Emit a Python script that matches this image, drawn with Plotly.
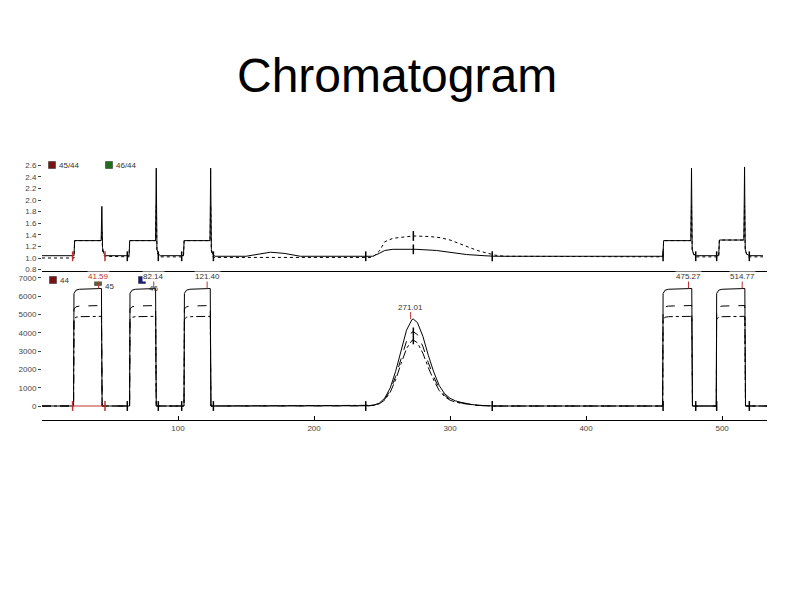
import plotly.graph_objects as go

# ---------------- data ----------------
# reference-gas pulses (bottom panel), seconds
pulse_start = [23.5, 64.7, 104.7, 456.6, 496.0]
pulse_end = [44.0, 83.8, 124.0, 478.0, 517.0]
# intensity profile along each pulse: before rise, at rise, +1.5 s, +4 s, end of plateau, after fall (mV)
profile_44 = [0, 6150, 6330, 6380, 6420, 0]
profile_45 = [0, 5300, 5420, 5460, 5490, 0]
profile_46 = [0, 4750, 4850, 4880, 4900, 0]

# sample peak (bottom panel)
peak_t = [236, 240, 244, 248, 252, 256, 260, 264, 268, 272, 273, 276, 280, 284, 288,
          292, 296, 300, 304, 308, 312, 316, 320, 324, 328, 332]
peak_44 = [0, 13, 49, 158, 431, 988, 1897, 3060, 4145, 4725, 4750, 4560, 3810, 2770, 1860,
           1120, 670, 420, 280, 200, 130, 80, 45, 20, 5, 0]
peak_45 = [0, 11, 42, 135, 368, 845, 1622, 2616, 3544, 4040, 4060, 3900, 3258, 2368, 1590,
           958, 573, 359, 239, 171, 111, 68, 38, 17, 4, 0]
peak_46 = [0, 10, 37, 120, 327, 749, 1438, 2320, 3142, 3582, 3600, 3456, 2888, 2100, 1410,
           849, 508, 318, 212, 152, 99, 61, 34, 15, 4, 0]

# ratio traces (top panel)
r45_t = [0, 23.5, 24, 43.5, 44, 44.5, 45.5, 47,
         64, 64.5, 83.5, 84, 84.5, 85.5, 87,
         104, 104.5, 123.5, 124, 124.5, 125.5, 127,
         150, 160, 168, 178, 190, 200,
         243, 248, 252, 258, 275, 290, 300, 312, 325, 333,
         456.5, 457, 477, 477.5, 478, 479, 481,
         497.5, 498, 516, 516.5, 517, 518, 520, 530]
r45_v = [1.04, 1.04, 1.30, 1.30, 1.89, 1.18, 1.08, 1.04,
         1.04, 1.30, 1.30, 2.55, 1.15, 1.07, 1.04,
         1.04, 1.30, 1.30, 2.55, 1.15, 1.07, 1.03,
         1.03, 1.07, 1.10, 1.08, 1.03, 1.03,
         1.03, 1.08, 1.13, 1.15, 1.15, 1.13, 1.10, 1.06, 1.04, 1.03,
         1.03, 1.30, 1.30, 2.55, 1.15, 1.07, 1.04,
         1.04, 1.31, 1.31, 2.57, 1.15, 1.07, 1.04, 1.04]
r46_t = [0, 23.5, 24, 43.5, 44, 44.5, 46,
         64, 64.5, 83.5, 84, 84.5, 86,
         104, 104.5, 123.5, 124, 124.5, 126,
         243, 248, 252, 258, 265, 273, 285, 293, 300, 307, 312, 320, 328, 333, 340,
         456.5, 457, 477, 477.5, 478, 480,
         497.5, 498, 516, 516.5, 517, 519, 530]
r46_v = [1.00, 1.00, 1.30, 1.30, 1.45, 1.12, 1.03,
         1.02, 1.30, 1.30, 1.90, 1.12, 1.02,
         1.02, 1.30, 1.30, 1.90, 1.12, 1.01,
         1.01, 1.12, 1.28, 1.34, 1.36, 1.38, 1.37, 1.35, 1.31, 1.25, 1.20, 1.13, 1.08, 1.05, 1.03,
         1.02, 1.30, 1.30, 1.90, 1.12, 1.02,
         1.02, 1.31, 1.31, 1.90, 1.12, 1.02, 1.02]

# detected peak boundaries
bound_start = [22.5, 62.7, 102.7, 238.0, 456.6, 496.0]
bound_end = [46.3, 85.5, 126.0, 331.0, 480.6, 520.0]
# peak apex labels
apex_label = ["41.59", "82.14", "121.40", "271.01", "475.27", "514.77"]
apex_time = [41.59, 82.14, 121.40, 271.01, 475.27, 514.77]
apex_height = [6420, 6420, 6420, 4750, 6420, 6420]

x_ticks = [100, 200, 300, 400, 500]
x_tick_text = ["100", "200", "300", "400", "500"]


def pulse_train(starts, ends, profile):
    ts, vs = [], []
    for s, e in zip(starts, ends):
        ts += [s - 0.3, s, s + 1.5, s + 4, e - 0.3, e + 0.2]
        vs += profile
    return ts, vs


def bottom_series(profile, peak_vals):
    t1, v1 = pulse_train(pulse_start[:3], pulse_end[:3], profile)
    t2, v2 = pulse_train(pulse_start[3:], pulse_end[3:], profile)
    t = [0] + t1 + peak_t + t2 + [533]
    v = [0] + v1 + peak_vals + v2 + [0]
    return t, v


fig = go.Figure()
small_font = dict(family="Liberation Sans, Arial", size=8, color="#444")

# ---- bottom panel ----
for prof, pk, dash, name in [(profile_44, peak_44, "solid", "44"),
                             (profile_45, peak_45, "dash", "45"),
                             (profile_46, peak_46, "dashdot", "46")]:
    t, v = bottom_series(prof, pk)
    fig.add_trace(go.Scatter(x=t, y=v, mode="lines", name=name, xaxis="x", yaxis="y",
                             line=dict(color="black", width=1, dash=dash)))

fig.add_trace(go.Scatter(x=[bound_start[0], bound_end[0]], y=[0, 0], mode="lines",
                         xaxis="x", yaxis="y", line=dict(color="#c03030", width=1)))
bx = bound_start + bound_end
bcol = ["#c03030"] + ["black"] * 5 + ["#c03030"] + ["black"] * 5
fig.add_trace(go.Scatter(x=bx, y=[0] * len(bx), mode="markers", xaxis="x", yaxis="y",
                         marker=dict(symbol="line-ns", size=7, line=dict(width=1.5, color=bcol))))
fig.add_trace(go.Scatter(x=[273, 273], y=[peak_45[10], peak_46[10]], mode="markers",
                         xaxis="x", yaxis="y",
                         marker=dict(symbol="line-ns", size=6, line=dict(width=1.5, color="black"))))

# ---- top panel ----
fig.add_trace(go.Scatter(x=r45_t, y=r45_v, mode="lines", xaxis="x2", yaxis="y2",
                         line=dict(color="black", width=1)))
fig.add_trace(go.Scatter(x=r46_t, y=r46_v, mode="lines", xaxis="x2", yaxis="y2",
                         line=dict(color="black", width=1, dash="dot")))
fig.add_trace(go.Scatter(x=bx, y=[1.03] * len(bx), mode="markers", xaxis="x2", yaxis="y2",
                         marker=dict(symbol="line-ns", size=7, line=dict(width=1.5, color=bcol))))
fig.add_trace(go.Scatter(x=[273, 273], y=[1.15, 1.38], mode="markers", xaxis="x2", yaxis="y2",
                         marker=dict(symbol="line-ns", size=7, line=dict(width=1.5, color="black"))))

# ---- layout ----
OFF = 8  # page body margin offset in the browser
W, H = 794, 595
L, R, T, B = 42 - OFF, 27 + OFF, 160 - OFF, 175 + OFF
ph = H - T - B
pw = W - L - R


def px(x):
    # x is a screen pixel in the reference
    return (x - OFF - L) / pw


def py(y):
    return (H - B - (y - OFF)) / ph


split = py(271)

annotations = []
for lab, t, h in zip(apex_label, apex_time, apex_height):
    annotations.append(dict(x=t, y=h, xref="x", yref="y", text=lab, showarrow=True,
                            arrowhead=0, arrowwidth=1, arrowcolor="#c03030", ax=0, ay=-12,
                            bgcolor="white", borderpad=0,
                            font=dict(family="Liberation Sans, Arial", size=8,
                                      color="#c03030" if lab == "41.59" else "#333")))

# legend boxes
shapes = []
legend_items = [(52, 165, "#7a1414", "45/44", 0), (109, 165, "#1e6e1e", "46/44", 0),
                (53, 280, "#7a1414", "44", 0), (98, 282, "#4a6a3a", "45", 4),
                (142, 280, "#1a1a80", "46", 8)]
for x0, y0, col, txt, dy in legend_items:
    shapes.append(dict(type="rect", xref="paper", yref="paper",
                       x0=px(x0 - 3.5), x1=px(x0 + 3.5), y0=py(y0 + 3.5), y1=py(y0 - 3.5),
                       fillcolor=col, line=dict(width=0.5, color="#222")))
    annotations.append(dict(x=px(x0 + 5), y=py(y0 + dy), xref="paper", yref="paper", text=txt,
                            showarrow=False, xanchor="left", yanchor="middle",
                            font=dict(family="Liberation Sans, Arial", size=8, color="#333")))

# title
annotations.append(dict(x=px(397), y=py(75), xref="paper", yref="paper", text="Chromatogram",
                        showarrow=False, xanchor="center", yanchor="middle",
                        font=dict(family="Liberation Sans, Arial", size=48, color="black")))

fig.update_layout(
    width=W, height=H,
    margin=dict(l=L, r=R, t=T, b=B, autoexpand=False),
    paper_bgcolor="white", plot_bgcolor="white",
    showlegend=False,
    xaxis=dict(domain=[0, 1], range=[0, 533], anchor="y", tickvals=x_ticks, ticktext=x_tick_text,
               showline=True, linecolor="black", linewidth=1, ticks="inside", ticklen=4,
               tickcolor="black", showgrid=False, zeroline=False, tickfont=small_font,
               automargin=False),
    yaxis=dict(domain=[0, split], range=[-765, 7377],
               tickvals=[0, 1000, 2000, 3000, 4000, 5000, 6000, 7000],
               ticks="outside", ticklen=3, tickcolor="#444", showline=False, showgrid=False,
               zeroline=False, tickfont=small_font, automargin=False),
    xaxis2=dict(domain=[0, 1], range=[0, 533], anchor="y2", matches="x", showticklabels=False,
                showline=True, linecolor="black", linewidth=1, ticks="", showgrid=False,
                zeroline=False, automargin=False),
    yaxis2=dict(domain=[split, 1], range=[0.776, 2.69],
                tickvals=[0.8, 1.0, 1.2, 1.4, 1.6, 1.8, 2.0, 2.2, 2.4, 2.6],
                ticktext=["0.8", "1.0", "1.2", "1.4", "1.6", "1.8", "2.0", "2.2", "2.4", "2.6"],
                ticks="outside", ticklen=3, tickcolor="#444", showline=False, showgrid=False,
                zeroline=False, tickfont=small_font, automargin=False),
    annotations=annotations,
    shapes=shapes,
)

fig.write_html("out.html")
